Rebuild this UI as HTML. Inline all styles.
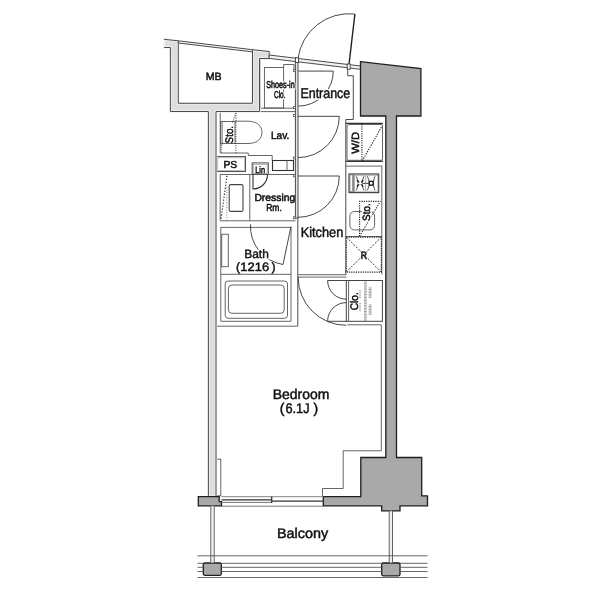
<!DOCTYPE html>
<html><head><meta charset="utf-8"><title>Floor plan</title>
<style>
html,body{margin:0;padding:0;background:#fff;width:600px;height:600px;overflow:hidden}
svg{display:block;will-change:transform;filter:blur(0.3px)}
text{font-family:"Liberation Sans",sans-serif;fill:#111;stroke:#111;stroke-width:0.3px;text-rendering:geometricPrecision}
</style></head><body>
<svg width="600" height="600" viewBox="0 0 600 600">

<!-- ===== thin interior lines ===== -->
<g fill="none" stroke="#555" stroke-width="0.9">
<!-- Shoes-in Clo. -->
<polyline points="259.5,58.5 269.2,58.5"/>
<line x1="260.3" y1="58.5" x2="260.3" y2="108"/>
<rect x="264.4" y="67.5" width="19.2" height="40.5"/>
<polyline points="283.6,67.5 283.6,64.5 294,64.5 294,70 295.4,70"/>
<line x1="259.5" y1="108.2" x2="295.4" y2="108.2"/>
<!-- Lav room -->
<polyline points="216.5,111.6 295.4,111.6"/>
<polyline points="220.2,112.5 220.2,153 248.3,153 248.3,155.5 272.2,155.5 272.2,160.5"/>
<line x1="216.5" y1="111.6" x2="216.5" y2="156.5"/>
<!-- toilet -->
<rect x="220.6" y="121.5" width="14.4" height="22" />
<line x1="222.1" y1="121.5" x2="222.1" y2="143.5" stroke="#444" stroke-width="0.8"/>
<path d="M235,121.2 H248 C258,121.2 262,127 262,132.3 C262,138 258,143.5 248,143.5 H235"/>
<line x1="235.9" y1="113" x2="235.9" y2="153" stroke-dasharray="1.1,1.2" stroke="#333"/>
<line x1="235.9" y1="113" x2="232.5" y2="122.5" stroke-dasharray="1.1,1.2" stroke="#333"/>
<path d="M221.6,145 V153 M221.6,145 l1.2,-1.5" stroke-dasharray="1,1.2" stroke="#555"/>
<!-- shelf box -->
<rect x="272.5" y="160.5" width="21" height="10" stroke="#333" stroke-width="1.1"/>
<line x1="287" y1="160.5" x2="287" y2="170.5"/>
<!-- PS -->
<rect x="216.6" y="156.6" width="28.9" height="14.9" stroke="#555" stroke-width="1.1"/>
<rect x="217.8" y="157.8" width="26.5" height="12.5" stroke="#999" stroke-width="0.6"/>
<!-- Lin -->
<rect x="252.2" y="162.9" width="16.1" height="11.4" stroke="#555" stroke-width="1.1"/>
<rect x="253.7" y="164.4" width="13.5" height="9.2" stroke="#999" stroke-width="0.7"/>
<!-- Dressing room -->
<line x1="220.2" y1="174.5" x2="295.4" y2="174.5"/>
<line x1="220.2" y1="174.5" x2="220.2" y2="220.5"/>
<line x1="249.8" y1="174.5" x2="249.8" y2="220.5"/>
<line x1="227" y1="175.8" x2="221" y2="219" stroke-dasharray="1.2,1.8" stroke="#222" stroke-width="1.2"/>
<line x1="226.8" y1="187" x2="226.8" y2="220.5" stroke-dasharray="1,1.5" stroke="#777"/>
<rect x="229.2" y="184.6" width="13.8" height="26.8" rx="1.5" stroke="#444" stroke-width="1.1"/>
<line x1="220.2" y1="220.8" x2="295.4" y2="220.8"/>
<line x1="220.8" y1="227.4" x2="291" y2="227.4"/>
<!-- Bath -->
<line x1="220.8" y1="227.2" x2="220.8" y2="321.3"/>
<line x1="291" y1="227.2" x2="291" y2="321.3"/>
<line x1="220.8" y1="321.3" x2="291" y2="321.3"/>
<line x1="216" y1="326.2" x2="297.6" y2="326.2"/>
<rect x="221.7" y="234.2" width="6.6" height="32.5"/>
<line x1="220.8" y1="274.3" x2="291" y2="274.3"/>
<rect x="225.2" y="281" width="62.3" height="37.3" rx="3"/>
<rect x="228.4" y="285" width="55.8" height="28.3" rx="3.5"/>
<!-- kitchen counter -->
<line x1="345.8" y1="166.1" x2="381.6" y2="166.1"/>
<line x1="381.8" y1="165.5" x2="381.8" y2="274.5"/>
<line x1="345.8" y1="236.5" x2="381.8" y2="236.5"/>
<!-- W/D -->
<line x1="345.8" y1="123.4" x2="382.9" y2="123.4" stroke="#333" stroke-width="1.4"/>
<line x1="345.8" y1="161.3" x2="382.9" y2="161.3" stroke="#333" stroke-width="1.4"/>
<rect x="347" y="124.5" width="35.5" height="35.8" rx="1.5"/>
<line x1="361.9" y1="124" x2="361.9" y2="161" stroke-dasharray="1.2,1.1" stroke="#222" stroke-width="1.1"/>
<line x1="362.3" y1="160.9" x2="381.8" y2="126.4" stroke-dasharray="1.3,1.2" stroke="#222" stroke-width="1.1"/>
<!-- stove -->
<rect x="349" y="174" width="29.7" height="18.6" stroke="#444" stroke-width="1.2"/>
<rect x="349.9" y="174.9" width="2.4" height="16.8" stroke="#666" stroke-width="0.7"/>
<line x1="353.8" y1="174.4" x2="353.8" y2="192.2" stroke="#444"/>
<rect x="354.6" y="175.4" width="23.2" height="15.8" stroke="#999" stroke-width="0.6"/>
<path d="M356.2,176.2 Q360.1,183.3 356.2,190.4 M364,176.2 Q360.1,183.3 364,190.4 M367.3,176.2 Q371.2,183.3 367.3,190.4 M375.1,176.2 Q371.2,183.3 375.1,190.4" stroke="#444" stroke-width="0.9"/>
<path d="M356.8,180 L363.4,186.6 M363.4,180 L356.8,186.6" stroke="#222" stroke-width="1.3"/>
<path d="M367.8,179.8 L374.6,186.8 M374.6,179.8 L367.8,186.8" stroke="#555" stroke-width="0.8"/>
<line x1="362.5" y1="183.3" x2="368.5" y2="183.3" stroke="#333" stroke-width="1"/>
<line x1="365.6" y1="176" x2="365.6" y2="191" stroke="#888" stroke-width="0.7"/>
<circle cx="360.1" cy="183.3" r="1.5" fill="#fff" stroke="none"/>
<circle cx="371.2" cy="183.3" r="2.1" fill="#fff" stroke="#111" stroke-width="1.3"/>
<!-- sink + sto -->
<rect x="349.9" y="211.5" width="24.7" height="18.4" rx="4.5"/>
<polyline points="359.6,236.3 359.6,201.4 380.3,201.4" stroke-dasharray="1.2,1.1" stroke="#222" stroke-width="1.1"/>
<line x1="359.6" y1="236.3" x2="380.3" y2="201.4" stroke-dasharray="1.3,1.2" stroke="#333" stroke-width="1.1"/>
<!-- refrigerator -->
<rect x="346.3" y="237.1" width="35" height="35" stroke-dasharray="1.2,1.1" stroke="#222" stroke-width="1.1"/>
<path d="M346.3,237.1 L381.3,272.1 M381.3,237.1 L346.3,272.1" stroke-dasharray="2,1.4" stroke="#333" stroke-width="1"/>
<!-- closet -->
<line x1="298.1" y1="274.7" x2="346.3" y2="274.7"/>
<line x1="298.1" y1="277.1" x2="346.3" y2="277.1"/>
<rect x="346.3" y="280.5" width="36.1" height="40.8" stroke="#444" stroke-width="1"/>
<line x1="348.6" y1="280.5" x2="348.6" y2="321.3"/>
<path d="M364,282.0H366.8 M364,283.6H366.8 M364,285.1H366.8 M364,286.7H366.8 M364,288.2H366.8 M364,289.8H366.8 M364,291.3H366.8 M364,292.9H366.8 M364,294.4H366.8 M364,296.0H366.8 M364,297.5H366.8 M364,299.1H366.8 M364,300.6H366.8 M364,302.2H366.8 M364,303.7H366.8 M364,305.3H366.8 M364,306.8H366.8 M364,308.4H366.8 M364,309.9H366.8 M364,311.5H366.8 M364,313.0H366.8 M364,314.6H366.8 M364,316.1H366.8 M364,317.7H366.8 M364,319.2H366.8 M364,320.8H366.8 M368.6,288.0H371.6 M368.6,289.6H371.6 M368.6,291.1H371.6 M368.6,292.7H371.6 M368.6,294.2H371.6 M368.6,295.8H371.6 M368.6,297.3H371.6 M368.6,305.0H371.6 M368.6,306.6H371.6 M368.6,308.1H371.6 M368.6,309.7H371.6 M368.6,311.2H371.6 M368.6,312.8H371.6 M368.6,314.3H371.6 M359.2,290.5H360.8 M359.2,292.3H360.8 M359.2,294.1H360.8 M359.2,295.9H360.8 M359.2,297.7H360.8 M359.2,303.5H360.8 M359.2,305.3H360.8 M359.2,307.1H360.8 M359.2,308.9H360.8 M359.2,310.7H360.8" stroke="#777" stroke-width="0.7"/>
<!-- bedroom interior -->
<polyline points="347.4,324.8 381.3,324.8 381.3,450.8 343.2,450.8 343.2,488.5 322.5,488.5 322.5,496"/>
<rect x="216.5" y="459.2" width="4.3" height="36.6"/>
<!-- doors -->
<path d="M354.7,14 A51.5,51.5 0 0 0 298,58.7" stroke="#333"/>
<line x1="348.9" y1="65.3" x2="354.9" y2="14" stroke="#222" stroke-width="1.4"/>
<path d="M298.3,71.1 H333.3 A35,35 0 0 1 298.3,106.1" stroke="#333"/>
<path d="M298,116.3 H339.3 A41.3,41.3 0 0 1 298,157.6" stroke="#333"/>
<path d="M298,176 H339.3 A41.3,41.3 0 0 1 298,217.3" stroke="#333"/>
<path d="M253,174.5 V189 A14.5,14.5 0 0 0 267.5,174.5" stroke="#333" stroke-width="1.1"/>
<path d="M298.1,277.1 A48.2,48.2 0 0 0 346.3,325.3" stroke="#333"/>
<path d="M346.3,280.5 H327.6 A18.7,18.7 0 0 0 346.3,299.2" stroke="#333"/>
<path d="M346.3,321.3 H327.6 A18.7,18.7 0 0 1 346.3,302.6" stroke="#333"/>
<path d="M291,226.5 L283,264.5 A38.5,38.5 0 0 1 250.5,224.3" stroke="#333"/>
</g>

<!-- ===== walls ===== -->
<g fill="none" stroke="#4a4a4a" stroke-width="1">
<polygon fill="#dddddd" stroke="#f3f3f3" stroke-width="2.4" points="164,39.3 178.3,40.8 178.3,103.3 252.5,103.3 252.5,49.7 269.2,51.5 269.2,58.5 259.5,58.5 259.5,111.5 216,111.5 216,496.7 208.4,496.7 208.4,111.5 170.4,111.5 170.4,47.5 164,47.5"/>
<polyline points="164,39.3 178.3,40.8 178.3,103.3 252.5,103.3 252.5,49.7 269.2,51.5 269.2,58.5 259.5,58.5 259.5,111.5 216,111.5 216,496.7"/>
<polyline points="208.4,496.7 208.4,111.5 170.4,111.5 170.4,47.5 164,47.5"/>
<polygon fill="#f2f2f2" points="178.3,40.8 252.5,49.7 252.5,51.9 178.3,43"/>
<polygon fill="#f2f2f2" points="269.2,55 360.5,66 360.5,69.3 269.2,58.4"/>
<rect x="295.5" y="57.6" width="3" height="5" fill="#fff"/>
<rect x="347.2" y="64" width="3" height="5.2" fill="#fff"/>
<rect x="295.4" y="62.5" width="2.6" height="155.5" fill="#e6e6e6"/>
<line x1="297.8" y1="218" x2="297.8" y2="326.2"/>
<polyline points="347.7,69 347.7,75.7 353.3,75.7 353.3,119.5 345.8,119.5 345.8,274.4"/>
</g>

<g><rect x="293.4" y="69.6" width="2" height="2" fill="#fff" stroke="#555" stroke-width="0.8"/>
<rect x="293.4" y="106.4" width="2" height="2" fill="#fff" stroke="#555" stroke-width="0.8"/>
<rect x="293.4" y="114.4" width="2" height="2" fill="#fff" stroke="#555" stroke-width="0.8"/>
<rect x="293.4" y="157" width="2" height="2" fill="#fff" stroke="#555" stroke-width="0.8"/>
<rect x="293.4" y="174.8" width="2" height="2" fill="#fff" stroke="#555" stroke-width="0.8"/>
<rect x="293.4" y="216.8" width="2" height="2" fill="#fff" stroke="#555" stroke-width="0.8"/>
</g>
<!-- ===== dark columns ===== -->
<g fill="#a9a9a9" stroke="#1e1e1e" stroke-width="1.3" stroke-linejoin="miter">
<polygon points="360.5,61.7 420.9,68.7 420.9,116 396.5,116 396.5,457.5 421.7,457.5 421.7,495.8 427.5,495.8 427.5,505.8 400,505.8 400,510.8 381.7,510.8 381.7,505.8 323.3,505.8 323.3,496.7 360.8,496.7 360.8,457.5 385.8,457.5 385.8,116 360.5,116"/>
<polygon points="198.3,496.7 219.2,496.7 219.2,501.7 221.5,501.7 221.5,505.8 198.3,505.8"/>
<rect x="203.3" y="563" width="18" height="12.3" rx="1.5"/>
<rect x="381.7" y="563" width="18.3" height="12.8" rx="1.5"/>
</g>

<!-- ===== balcony ===== -->
<g fill="none" stroke="#555" stroke-width="0.9">
<rect x="210.8" y="505.8" width="3.4" height="57.2" fill="#f0f0f0"/>
<rect x="389.2" y="510.8" width="3.3" height="52.2" fill="#f0f0f0"/>
<line x1="197.5" y1="555.8" x2="427.5" y2="555.8"/>
<line x1="197.5" y1="563.3" x2="203.3" y2="563.3"/><line x1="221.3" y1="563.3" x2="381.7" y2="563.3"/><line x1="400" y1="563.3" x2="427.5" y2="563.3"/>
<line x1="197.5" y1="567.3" x2="203.3" y2="567.3"/><line x1="221.3" y1="567.3" x2="381.7" y2="567.3"/><line x1="400" y1="567.3" x2="427.5" y2="567.3"/>
<line x1="197.5" y1="571.5" x2="203.3" y2="571.5"/><line x1="221.3" y1="571.5" x2="381.7" y2="571.5"/><line x1="400" y1="571.5" x2="427.5" y2="571.5"/>
<line x1="197.5" y1="577.5" x2="427.5" y2="577.5"/>
<line x1="221.5" y1="496.7" x2="323.3" y2="496.7" stroke="#777"/>
<line x1="221.5" y1="499.9" x2="271.7" y2="499.9" stroke="#333" stroke-width="1.1"/>
<line x1="221.5" y1="502.4" x2="271.7" y2="502.4" stroke="#666"/>
<line x1="271.7" y1="501.1" x2="323.3" y2="501.1" stroke="#333" stroke-width="1.1"/>
<line x1="221.5" y1="506.2" x2="323.3" y2="506.2" stroke="#666"/>
<line x1="271.7" y1="496.5" x2="271.7" y2="503" stroke="#333" stroke-width="1.3"/>
</g>

<!-- ===== texts ===== -->
<text x="266.2" y="88.0" font-size="10" textLength="28.5" lengthAdjust="spacingAndGlyphs" style="stroke:#fff;fill:#fff;stroke-width:3.2px">Shoes-in</text>
<text x="274" y="97.5" font-size="10" textLength="11.4" lengthAdjust="spacingAndGlyphs" style="stroke:#fff;fill:#fff;stroke-width:3.2px">Clo.</text>
<text x="300.4" y="97.6" font-size="14.3" textLength="49.9" lengthAdjust="spacingAndGlyphs" style="stroke:#fff;fill:#fff;stroke-width:3.2px">Entrance</text>
<text x="244.3" y="258.2" font-size="12" textLength="24.5" lengthAdjust="spacingAndGlyphs" style="stroke:#fff;fill:#fff;stroke-width:3.2px">Bath</text>
<text transform="translate(369.8,220.9) rotate(-90)" font-size="10.5" textLength="17.6" lengthAdjust="spacingAndGlyphs" style="stroke:#fff;fill:#fff;stroke-width:3.2px">Sto.</text>
<text x="205.8" y="79.9" font-size="10.4" textLength="15.9" lengthAdjust="spacingAndGlyphs" style="stroke-width:0.48px">MB</text>
<text x="266.2" y="88.0" font-size="10" textLength="28.5" lengthAdjust="spacingAndGlyphs" style="stroke-width:0.58px">Shoes-in</text>
<text x="274" y="97.5" font-size="10" textLength="11.4" lengthAdjust="spacingAndGlyphs" style="stroke-width:0.58px">Clo.</text>
<text x="300.4" y="97.6" font-size="14.3" textLength="49.9" lengthAdjust="spacingAndGlyphs" style="stroke-width:0.48px">Entrance</text>
<text x="271" y="138.7" font-size="10.7" textLength="18.3" lengthAdjust="spacingAndGlyphs" style="stroke-width:0.52px">Lav.</text>
<text x="223.5" y="167.8" font-size="10.2" textLength="13.7" lengthAdjust="spacingAndGlyphs" style="stroke-width:0.52px">PS</text>
<text x="255.3" y="172.6" font-size="9.2" textLength="9.7" lengthAdjust="spacingAndGlyphs" style="stroke-width:0.52px">Lin</text>
<text x="254.4" y="200.8" font-size="10.2" textLength="40.8" lengthAdjust="spacingAndGlyphs" style="stroke-width:0.52px">Dressing</text>
<text x="266.2" y="210.8" font-size="10" textLength="15.6" lengthAdjust="spacingAndGlyphs" style="stroke-width:0.52px">Rm.</text>
<text x="300.7" y="236.7" font-size="14" textLength="42.6" lengthAdjust="spacingAndGlyphs" style="stroke-width:0.48px">Kitchen</text>
<text x="244.3" y="258.2" font-size="12" textLength="24.5" lengthAdjust="spacingAndGlyphs" style="stroke-width:0.45px">Bath</text>
<text x="236.1" y="270.5" font-size="12.2" textLength="4.06" lengthAdjust="spacingAndGlyphs" style="stroke-width:0.45px">(</text>
<text x="240.3" y="270.5" font-size="12.2" textLength="28.9" lengthAdjust="spacingAndGlyphs" style="stroke-width:0.45px">1216</text>
<text x="271.5" y="270.5" font-size="12.2" textLength="4.06" lengthAdjust="spacingAndGlyphs" style="stroke-width:0.45px">)</text>
<text x="272.7" y="399.3" font-size="14" textLength="56.6" lengthAdjust="spacingAndGlyphs" style="stroke-width:0.48px">Bedroom</text>
<text x="279.7" y="413.3" font-size="14" textLength="4.66" lengthAdjust="spacingAndGlyphs" style="stroke-width:0.48px">(</text>
<text x="285.4" y="413.3" font-size="14" textLength="24.2" lengthAdjust="spacingAndGlyphs" style="stroke-width:0.48px">6.1J</text>
<text x="313.4" y="413.3" font-size="14" textLength="4.66" lengthAdjust="spacingAndGlyphs" style="stroke-width:0.48px">)</text>
<text x="277" y="538" font-size="14" textLength="51.2" lengthAdjust="spacingAndGlyphs" style="stroke-width:0.48px">Balcony</text>
<text x="360.8" y="258.8" font-size="10.5" textLength="6.3" lengthAdjust="spacingAndGlyphs" style="stroke-width:0.52px">R</text>
<text transform="translate(358.9,153.8) rotate(-90)" font-size="10.5" textLength="21.8" lengthAdjust="spacingAndGlyphs" style="stroke-width:0.52px">W/D</text>
<text transform="translate(369.8,220.9) rotate(-90)" font-size="10.5" textLength="17.6" lengthAdjust="spacingAndGlyphs" style="stroke-width:0.52px">Sto.</text>
<text transform="translate(232.6,143.4) rotate(-90)" font-size="11" textLength="17.5" lengthAdjust="spacingAndGlyphs" style="stroke-width:0.48px">Sto.</text>
<text transform="translate(357.5,310.3) rotate(-90)" font-size="11" textLength="18" lengthAdjust="spacingAndGlyphs" style="stroke-width:0.52px">Clo.</text>
</svg>
</body></html>
